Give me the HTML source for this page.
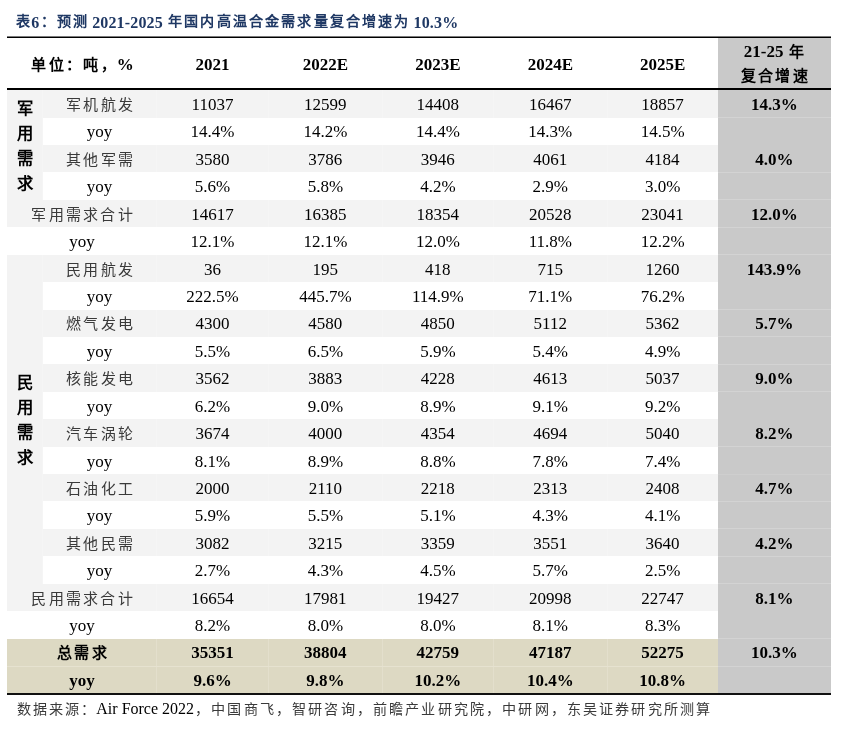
<!DOCTYPE html>
<html lang="zh-CN"><head><meta charset="utf-8"><title>表6</title>
<style>
html,body{margin:0;padding:0;background:#fff;}
body{width:842px;height:738px;position:relative;overflow:hidden;will-change:transform;font-family:"Liberation Serif",serif;color:#000;}
.r{position:absolute;}
.t{position:absolute;line-height:20px;height:20px;text-align:center;white-space:nowrap;}
.c{position:relative;}
</style></head><body>
<div class="r" style="left:42.40px;top:90.20px;width:675.60px;height:27.42px;background:#f3f3f3"></div>
<div class="r" style="left:42.40px;top:145.04px;width:675.60px;height:27.42px;background:#f3f3f3"></div>
<div class="r" style="left:42.40px;top:199.88px;width:675.60px;height:27.42px;background:#f3f3f3"></div>
<div class="r" style="left:7.40px;top:199.88px;width:35.00px;height:27.42px;background:#f3f3f3"></div>
<div class="r" style="left:42.40px;top:254.72px;width:675.60px;height:27.42px;background:#f3f3f3"></div>
<div class="r" style="left:42.40px;top:309.56px;width:675.60px;height:27.42px;background:#f3f3f3"></div>
<div class="r" style="left:42.40px;top:364.40px;width:675.60px;height:27.42px;background:#f3f3f3"></div>
<div class="r" style="left:42.40px;top:419.24px;width:675.60px;height:27.42px;background:#f3f3f3"></div>
<div class="r" style="left:42.40px;top:474.08px;width:675.60px;height:27.42px;background:#f3f3f3"></div>
<div class="r" style="left:42.40px;top:528.92px;width:675.60px;height:27.42px;background:#f3f3f3"></div>
<div class="r" style="left:42.40px;top:583.76px;width:675.60px;height:27.42px;background:#f3f3f3"></div>
<div class="r" style="left:7.40px;top:583.76px;width:35.00px;height:27.42px;background:#f3f3f3"></div>
<div class="r" style="left:7.40px;top:638.60px;width:710.60px;height:27.42px;background:#ddd9c3"></div>
<div class="r" style="left:7.40px;top:666.02px;width:710.60px;height:27.42px;background:#ddd9c3"></div>
<div class="r" style="left:7.40px;top:90.20px;width:35.00px;height:109.68px;background:#f3f3f3"></div>
<div class="r" style="left:7.40px;top:254.72px;width:35.00px;height:329.04px;background:#f3f3f3"></div>
<div class="r" style="left:718.00px;top:37.00px;width:112.70px;height:656.44px;background:#c9c9c9"></div>
<div class="r" style="left:156.10px;top:90.20px;width:1.00px;height:27.42px;background:#f5f5f5"></div>
<div class="r" style="left:267.90px;top:90.20px;width:1.00px;height:27.42px;background:#f5f5f5"></div>
<div class="r" style="left:381.80px;top:90.20px;width:1.00px;height:27.42px;background:#f5f5f5"></div>
<div class="r" style="left:492.90px;top:90.20px;width:1.00px;height:27.42px;background:#f5f5f5"></div>
<div class="r" style="left:606.70px;top:90.20px;width:1.00px;height:27.42px;background:#f5f5f5"></div>
<div class="r" style="left:41.90px;top:90.20px;width:1.00px;height:27.42px;background:#f5f5f5"></div>
<div class="r" style="left:156.10px;top:145.04px;width:1.00px;height:27.42px;background:#f5f5f5"></div>
<div class="r" style="left:267.90px;top:145.04px;width:1.00px;height:27.42px;background:#f5f5f5"></div>
<div class="r" style="left:381.80px;top:145.04px;width:1.00px;height:27.42px;background:#f5f5f5"></div>
<div class="r" style="left:492.90px;top:145.04px;width:1.00px;height:27.42px;background:#f5f5f5"></div>
<div class="r" style="left:606.70px;top:145.04px;width:1.00px;height:27.42px;background:#f5f5f5"></div>
<div class="r" style="left:41.90px;top:145.04px;width:1.00px;height:27.42px;background:#f5f5f5"></div>
<div class="r" style="left:156.10px;top:199.88px;width:1.00px;height:27.42px;background:#f5f5f5"></div>
<div class="r" style="left:267.90px;top:199.88px;width:1.00px;height:27.42px;background:#f5f5f5"></div>
<div class="r" style="left:381.80px;top:199.88px;width:1.00px;height:27.42px;background:#f5f5f5"></div>
<div class="r" style="left:492.90px;top:199.88px;width:1.00px;height:27.42px;background:#f5f5f5"></div>
<div class="r" style="left:606.70px;top:199.88px;width:1.00px;height:27.42px;background:#f5f5f5"></div>
<div class="r" style="left:156.10px;top:254.72px;width:1.00px;height:27.42px;background:#f5f5f5"></div>
<div class="r" style="left:267.90px;top:254.72px;width:1.00px;height:27.42px;background:#f5f5f5"></div>
<div class="r" style="left:381.80px;top:254.72px;width:1.00px;height:27.42px;background:#f5f5f5"></div>
<div class="r" style="left:492.90px;top:254.72px;width:1.00px;height:27.42px;background:#f5f5f5"></div>
<div class="r" style="left:606.70px;top:254.72px;width:1.00px;height:27.42px;background:#f5f5f5"></div>
<div class="r" style="left:41.90px;top:254.72px;width:1.00px;height:27.42px;background:#f5f5f5"></div>
<div class="r" style="left:156.10px;top:309.56px;width:1.00px;height:27.42px;background:#f5f5f5"></div>
<div class="r" style="left:267.90px;top:309.56px;width:1.00px;height:27.42px;background:#f5f5f5"></div>
<div class="r" style="left:381.80px;top:309.56px;width:1.00px;height:27.42px;background:#f5f5f5"></div>
<div class="r" style="left:492.90px;top:309.56px;width:1.00px;height:27.42px;background:#f5f5f5"></div>
<div class="r" style="left:606.70px;top:309.56px;width:1.00px;height:27.42px;background:#f5f5f5"></div>
<div class="r" style="left:41.90px;top:309.56px;width:1.00px;height:27.42px;background:#f5f5f5"></div>
<div class="r" style="left:156.10px;top:364.40px;width:1.00px;height:27.42px;background:#f5f5f5"></div>
<div class="r" style="left:267.90px;top:364.40px;width:1.00px;height:27.42px;background:#f5f5f5"></div>
<div class="r" style="left:381.80px;top:364.40px;width:1.00px;height:27.42px;background:#f5f5f5"></div>
<div class="r" style="left:492.90px;top:364.40px;width:1.00px;height:27.42px;background:#f5f5f5"></div>
<div class="r" style="left:606.70px;top:364.40px;width:1.00px;height:27.42px;background:#f5f5f5"></div>
<div class="r" style="left:41.90px;top:364.40px;width:1.00px;height:27.42px;background:#f5f5f5"></div>
<div class="r" style="left:156.10px;top:419.24px;width:1.00px;height:27.42px;background:#f5f5f5"></div>
<div class="r" style="left:267.90px;top:419.24px;width:1.00px;height:27.42px;background:#f5f5f5"></div>
<div class="r" style="left:381.80px;top:419.24px;width:1.00px;height:27.42px;background:#f5f5f5"></div>
<div class="r" style="left:492.90px;top:419.24px;width:1.00px;height:27.42px;background:#f5f5f5"></div>
<div class="r" style="left:606.70px;top:419.24px;width:1.00px;height:27.42px;background:#f5f5f5"></div>
<div class="r" style="left:41.90px;top:419.24px;width:1.00px;height:27.42px;background:#f5f5f5"></div>
<div class="r" style="left:156.10px;top:474.08px;width:1.00px;height:27.42px;background:#f5f5f5"></div>
<div class="r" style="left:267.90px;top:474.08px;width:1.00px;height:27.42px;background:#f5f5f5"></div>
<div class="r" style="left:381.80px;top:474.08px;width:1.00px;height:27.42px;background:#f5f5f5"></div>
<div class="r" style="left:492.90px;top:474.08px;width:1.00px;height:27.42px;background:#f5f5f5"></div>
<div class="r" style="left:606.70px;top:474.08px;width:1.00px;height:27.42px;background:#f5f5f5"></div>
<div class="r" style="left:41.90px;top:474.08px;width:1.00px;height:27.42px;background:#f5f5f5"></div>
<div class="r" style="left:156.10px;top:528.92px;width:1.00px;height:27.42px;background:#f5f5f5"></div>
<div class="r" style="left:267.90px;top:528.92px;width:1.00px;height:27.42px;background:#f5f5f5"></div>
<div class="r" style="left:381.80px;top:528.92px;width:1.00px;height:27.42px;background:#f5f5f5"></div>
<div class="r" style="left:492.90px;top:528.92px;width:1.00px;height:27.42px;background:#f5f5f5"></div>
<div class="r" style="left:606.70px;top:528.92px;width:1.00px;height:27.42px;background:#f5f5f5"></div>
<div class="r" style="left:41.90px;top:528.92px;width:1.00px;height:27.42px;background:#f5f5f5"></div>
<div class="r" style="left:156.10px;top:583.76px;width:1.00px;height:27.42px;background:#f5f5f5"></div>
<div class="r" style="left:267.90px;top:583.76px;width:1.00px;height:27.42px;background:#f5f5f5"></div>
<div class="r" style="left:381.80px;top:583.76px;width:1.00px;height:27.42px;background:#f5f5f5"></div>
<div class="r" style="left:492.90px;top:583.76px;width:1.00px;height:27.42px;background:#f5f5f5"></div>
<div class="r" style="left:606.70px;top:583.76px;width:1.00px;height:27.42px;background:#f5f5f5"></div>
<div class="r" style="left:156.10px;top:638.60px;width:1.00px;height:27.42px;background:#e3dfcc"></div>
<div class="r" style="left:267.90px;top:638.60px;width:1.00px;height:27.42px;background:#e3dfcc"></div>
<div class="r" style="left:381.80px;top:638.60px;width:1.00px;height:27.42px;background:#e3dfcc"></div>
<div class="r" style="left:492.90px;top:638.60px;width:1.00px;height:27.42px;background:#e3dfcc"></div>
<div class="r" style="left:606.70px;top:638.60px;width:1.00px;height:27.42px;background:#e3dfcc"></div>
<div class="r" style="left:156.10px;top:666.02px;width:1.00px;height:27.42px;background:#e3dfcc"></div>
<div class="r" style="left:267.90px;top:666.02px;width:1.00px;height:27.42px;background:#e3dfcc"></div>
<div class="r" style="left:381.80px;top:666.02px;width:1.00px;height:27.42px;background:#e3dfcc"></div>
<div class="r" style="left:492.90px;top:666.02px;width:1.00px;height:27.42px;background:#e3dfcc"></div>
<div class="r" style="left:606.70px;top:666.02px;width:1.00px;height:27.42px;background:#e3dfcc"></div>
<div class="r" style="left:41.90px;top:90.20px;width:1.00px;height:109.68px;background:#f5f5f5"></div>
<div class="r" style="left:41.90px;top:254.72px;width:1.00px;height:329.04px;background:#f5f5f5"></div>
<div class="r" style="left:718.00px;top:117.12px;width:112.70px;height:1.00px;background:#d3d3d3"></div>
<div class="r" style="left:718.00px;top:171.96px;width:112.70px;height:1.00px;background:#d3d3d3"></div>
<div class="r" style="left:718.00px;top:199.38px;width:112.70px;height:1.00px;background:#d3d3d3"></div>
<div class="r" style="left:718.00px;top:226.80px;width:112.70px;height:1.00px;background:#d3d3d3"></div>
<div class="r" style="left:718.00px;top:254.22px;width:112.70px;height:1.00px;background:#d3d3d3"></div>
<div class="r" style="left:718.00px;top:309.06px;width:112.70px;height:1.00px;background:#d3d3d3"></div>
<div class="r" style="left:718.00px;top:336.48px;width:112.70px;height:1.00px;background:#d3d3d3"></div>
<div class="r" style="left:718.00px;top:363.90px;width:112.70px;height:1.00px;background:#d3d3d3"></div>
<div class="r" style="left:718.00px;top:391.32px;width:112.70px;height:1.00px;background:#d3d3d3"></div>
<div class="r" style="left:718.00px;top:446.16px;width:112.70px;height:1.00px;background:#d3d3d3"></div>
<div class="r" style="left:718.00px;top:501.00px;width:112.70px;height:1.00px;background:#d3d3d3"></div>
<div class="r" style="left:718.00px;top:528.42px;width:112.70px;height:1.00px;background:#d3d3d3"></div>
<div class="r" style="left:718.00px;top:555.84px;width:112.70px;height:1.00px;background:#d3d3d3"></div>
<div class="r" style="left:718.00px;top:583.26px;width:112.70px;height:1.00px;background:#d3d3d3"></div>
<div class="r" style="left:718.00px;top:638.10px;width:112.70px;height:1.00px;background:#d3d3d3"></div>
<div class="r" style="left:718.00px;top:665.52px;width:112.70px;height:1.00px;background:#d3d3d3"></div>
<div class="r" style="left:718.00px;top:473.58px;width:112.70px;height:1.00px;background:#cecece"></div>
<div class="r" style="left:7.40px;top:665.52px;width:710.60px;height:1.00px;background:#e6e2d0"></div>
<div class="r" style="left:7.40px;top:36.00px;width:823.30px;height:1.00px;background:#7a7a7a"></div>
<div class="r" style="left:7.40px;top:37.00px;width:823.30px;height:1.00px;background:#000"></div>
<div class="r" style="left:7.40px;top:88.00px;width:823.30px;height:2.00px;background:#000"></div>
<div class="r" style="left:7.40px;top:693.00px;width:823.30px;height:2.00px;background:#111"></div>
<div class="t" style="letter-spacing:0.15px;left:15.20px;text-align:left;top:12.50px;font-size:16px;font-weight:bold;color:#1f3864;"><span class="c" style="font-size:14.12px;letter-spacing:2.16px;padding-left:1.08px;margin-right:-1.08px;font-weight:bold;color:inherit;top:-1.20px">表</span>6<span class="c" style="font-size:14.12px;letter-spacing:2.16px;padding-left:1.08px;margin-right:-1.08px;font-weight:bold;color:inherit;top:-1.20px">：预测</span> 2021-2025 <span class="c" style="font-size:14.12px;letter-spacing:2.16px;padding-left:1.08px;margin-right:-1.08px;font-weight:bold;color:inherit;top:-1.20px">年国内高温合金需求量复合增速为</span> 10.3%</div>
<div class="t" style="left:-68.00px;width:300px;top:54.56px;font-size:17px;font-weight:bold;"><span class="c" style="font-size:15.00px;letter-spacing:2.30px;padding-left:1.15px;margin-right:-1.15px;font-weight:bold;color:inherit;top:0.00px">单位：吨，</span>%</div>
<div class="t" style="left:62.50px;width:300px;top:54.56px;font-size:17px;font-weight:bold;">2021</div>
<div class="t" style="left:175.35px;width:300px;top:54.56px;font-size:17px;font-weight:bold;">2022E</div>
<div class="t" style="left:287.85px;width:300px;top:54.56px;font-size:17px;font-weight:bold;">2023E</div>
<div class="t" style="left:400.30px;width:300px;top:54.56px;font-size:17px;font-weight:bold;">2024E</div>
<div class="t" style="left:512.60px;width:300px;top:54.56px;font-size:17px;font-weight:bold;">2025E</div>
<div class="t" style="left:624.35px;width:300px;top:41.76px;font-size:17px;font-weight:bold;">21-25 <span class="c" style="font-size:15.00px;letter-spacing:2.30px;padding-left:1.15px;margin-right:-1.15px;font-weight:bold;color:inherit;top:0.00px">年</span></div>
<div class="t" style="left:624.35px;width:300px;top:66.46px;font-size:17px;font-weight:bold;"><span class="c" style="font-size:15.00px;letter-spacing:2.30px;padding-left:1.15px;margin-right:-1.15px;font-weight:bold;color:inherit;top:0.00px">复合增速</span></div>
<div class="t" style="left:-50.50px;width:300px;top:95.06px;font-size:17px;"><span class="c" style="font-size:15.00px;letter-spacing:2.30px;padding-left:1.15px;margin-right:-1.15px;font-weight:normal;color:#3a3a3a;top:0.00px">军机航发</span></div>
<div class="t" style="left:62.50px;width:300px;top:95.06px;font-size:17px;">11037</div>
<div class="t" style="left:175.35px;width:300px;top:95.06px;font-size:17px;">12599</div>
<div class="t" style="left:287.85px;width:300px;top:95.06px;font-size:17px;">14408</div>
<div class="t" style="left:400.30px;width:300px;top:95.06px;font-size:17px;">16467</div>
<div class="t" style="left:512.60px;width:300px;top:95.06px;font-size:17px;">18857</div>
<div class="t" style="left:624.35px;width:300px;top:95.06px;font-size:17px;font-weight:bold;">14.3%</div>
<div class="t" style="left:-50.50px;width:300px;top:122.48px;font-size:17px;">yoy</div>
<div class="t" style="left:62.50px;width:300px;top:122.48px;font-size:17px;">14.4%</div>
<div class="t" style="left:175.35px;width:300px;top:122.48px;font-size:17px;">14.2%</div>
<div class="t" style="left:287.85px;width:300px;top:122.48px;font-size:17px;">14.4%</div>
<div class="t" style="left:400.30px;width:300px;top:122.48px;font-size:17px;">14.3%</div>
<div class="t" style="left:512.60px;width:300px;top:122.48px;font-size:17px;">14.5%</div>
<div class="t" style="left:-50.50px;width:300px;top:149.90px;font-size:17px;"><span class="c" style="font-size:15.00px;letter-spacing:2.30px;padding-left:1.15px;margin-right:-1.15px;font-weight:normal;color:#3a3a3a;top:0.00px">其他军需</span></div>
<div class="t" style="left:62.50px;width:300px;top:149.90px;font-size:17px;">3580</div>
<div class="t" style="left:175.35px;width:300px;top:149.90px;font-size:17px;">3786</div>
<div class="t" style="left:287.85px;width:300px;top:149.90px;font-size:17px;">3946</div>
<div class="t" style="left:400.30px;width:300px;top:149.90px;font-size:17px;">4061</div>
<div class="t" style="left:512.60px;width:300px;top:149.90px;font-size:17px;">4184</div>
<div class="t" style="left:624.35px;width:300px;top:149.90px;font-size:17px;font-weight:bold;">4.0%</div>
<div class="t" style="left:-50.50px;width:300px;top:177.32px;font-size:17px;">yoy</div>
<div class="t" style="left:62.50px;width:300px;top:177.32px;font-size:17px;">5.6%</div>
<div class="t" style="left:175.35px;width:300px;top:177.32px;font-size:17px;">5.8%</div>
<div class="t" style="left:287.85px;width:300px;top:177.32px;font-size:17px;">4.2%</div>
<div class="t" style="left:400.30px;width:300px;top:177.32px;font-size:17px;">2.9%</div>
<div class="t" style="left:512.60px;width:300px;top:177.32px;font-size:17px;">3.0%</div>
<div class="t" style="left:-68.00px;width:300px;top:204.74px;font-size:17px;"><span class="c" style="font-size:15.00px;letter-spacing:2.30px;padding-left:1.15px;margin-right:-1.15px;font-weight:normal;color:#3a3a3a;top:0.00px">军用需求合计</span></div>
<div class="t" style="left:62.50px;width:300px;top:204.74px;font-size:17px;">14617</div>
<div class="t" style="left:175.35px;width:300px;top:204.74px;font-size:17px;">16385</div>
<div class="t" style="left:287.85px;width:300px;top:204.74px;font-size:17px;">18354</div>
<div class="t" style="left:400.30px;width:300px;top:204.74px;font-size:17px;">20528</div>
<div class="t" style="left:512.60px;width:300px;top:204.74px;font-size:17px;">23041</div>
<div class="t" style="left:624.35px;width:300px;top:204.74px;font-size:17px;font-weight:bold;">12.0%</div>
<div class="t" style="left:-68.00px;width:300px;top:232.16px;font-size:17px;">yoy</div>
<div class="t" style="left:62.50px;width:300px;top:232.16px;font-size:17px;">12.1%</div>
<div class="t" style="left:175.35px;width:300px;top:232.16px;font-size:17px;">12.1%</div>
<div class="t" style="left:287.85px;width:300px;top:232.16px;font-size:17px;">12.0%</div>
<div class="t" style="left:400.30px;width:300px;top:232.16px;font-size:17px;">11.8%</div>
<div class="t" style="left:512.60px;width:300px;top:232.16px;font-size:17px;">12.2%</div>
<div class="t" style="left:-50.50px;width:300px;top:259.58px;font-size:17px;"><span class="c" style="font-size:15.00px;letter-spacing:2.30px;padding-left:1.15px;margin-right:-1.15px;font-weight:normal;color:#3a3a3a;top:0.00px">民用航发</span></div>
<div class="t" style="left:62.50px;width:300px;top:259.58px;font-size:17px;">36</div>
<div class="t" style="left:175.35px;width:300px;top:259.58px;font-size:17px;">195</div>
<div class="t" style="left:287.85px;width:300px;top:259.58px;font-size:17px;">418</div>
<div class="t" style="left:400.30px;width:300px;top:259.58px;font-size:17px;">715</div>
<div class="t" style="left:512.60px;width:300px;top:259.58px;font-size:17px;">1260</div>
<div class="t" style="left:624.35px;width:300px;top:259.58px;font-size:17px;font-weight:bold;">143.9%</div>
<div class="t" style="left:-50.50px;width:300px;top:287.00px;font-size:17px;">yoy</div>
<div class="t" style="left:62.50px;width:300px;top:287.00px;font-size:17px;">222.5%</div>
<div class="t" style="left:175.35px;width:300px;top:287.00px;font-size:17px;">445.7%</div>
<div class="t" style="left:287.85px;width:300px;top:287.00px;font-size:17px;">114.9%</div>
<div class="t" style="left:400.30px;width:300px;top:287.00px;font-size:17px;">71.1%</div>
<div class="t" style="left:512.60px;width:300px;top:287.00px;font-size:17px;">76.2%</div>
<div class="t" style="left:-50.50px;width:300px;top:314.42px;font-size:17px;"><span class="c" style="font-size:15.00px;letter-spacing:2.30px;padding-left:1.15px;margin-right:-1.15px;font-weight:normal;color:#3a3a3a;top:0.00px">燃气发电</span></div>
<div class="t" style="left:62.50px;width:300px;top:314.42px;font-size:17px;">4300</div>
<div class="t" style="left:175.35px;width:300px;top:314.42px;font-size:17px;">4580</div>
<div class="t" style="left:287.85px;width:300px;top:314.42px;font-size:17px;">4850</div>
<div class="t" style="left:400.30px;width:300px;top:314.42px;font-size:17px;">5112</div>
<div class="t" style="left:512.60px;width:300px;top:314.42px;font-size:17px;">5362</div>
<div class="t" style="left:624.35px;width:300px;top:314.42px;font-size:17px;font-weight:bold;">5.7%</div>
<div class="t" style="left:-50.50px;width:300px;top:341.84px;font-size:17px;">yoy</div>
<div class="t" style="left:62.50px;width:300px;top:341.84px;font-size:17px;">5.5%</div>
<div class="t" style="left:175.35px;width:300px;top:341.84px;font-size:17px;">6.5%</div>
<div class="t" style="left:287.85px;width:300px;top:341.84px;font-size:17px;">5.9%</div>
<div class="t" style="left:400.30px;width:300px;top:341.84px;font-size:17px;">5.4%</div>
<div class="t" style="left:512.60px;width:300px;top:341.84px;font-size:17px;">4.9%</div>
<div class="t" style="left:-50.50px;width:300px;top:369.26px;font-size:17px;"><span class="c" style="font-size:15.00px;letter-spacing:2.30px;padding-left:1.15px;margin-right:-1.15px;font-weight:normal;color:#3a3a3a;top:0.00px">核能发电</span></div>
<div class="t" style="left:62.50px;width:300px;top:369.26px;font-size:17px;">3562</div>
<div class="t" style="left:175.35px;width:300px;top:369.26px;font-size:17px;">3883</div>
<div class="t" style="left:287.85px;width:300px;top:369.26px;font-size:17px;">4228</div>
<div class="t" style="left:400.30px;width:300px;top:369.26px;font-size:17px;">4613</div>
<div class="t" style="left:512.60px;width:300px;top:369.26px;font-size:17px;">5037</div>
<div class="t" style="left:624.35px;width:300px;top:369.26px;font-size:17px;font-weight:bold;">9.0%</div>
<div class="t" style="left:-50.50px;width:300px;top:396.68px;font-size:17px;">yoy</div>
<div class="t" style="left:62.50px;width:300px;top:396.68px;font-size:17px;">6.2%</div>
<div class="t" style="left:175.35px;width:300px;top:396.68px;font-size:17px;">9.0%</div>
<div class="t" style="left:287.85px;width:300px;top:396.68px;font-size:17px;">8.9%</div>
<div class="t" style="left:400.30px;width:300px;top:396.68px;font-size:17px;">9.1%</div>
<div class="t" style="left:512.60px;width:300px;top:396.68px;font-size:17px;">9.2%</div>
<div class="t" style="left:-50.50px;width:300px;top:424.10px;font-size:17px;"><span class="c" style="font-size:15.00px;letter-spacing:2.30px;padding-left:1.15px;margin-right:-1.15px;font-weight:normal;color:#3a3a3a;top:0.00px">汽车涡轮</span></div>
<div class="t" style="left:62.50px;width:300px;top:424.10px;font-size:17px;">3674</div>
<div class="t" style="left:175.35px;width:300px;top:424.10px;font-size:17px;">4000</div>
<div class="t" style="left:287.85px;width:300px;top:424.10px;font-size:17px;">4354</div>
<div class="t" style="left:400.30px;width:300px;top:424.10px;font-size:17px;">4694</div>
<div class="t" style="left:512.60px;width:300px;top:424.10px;font-size:17px;">5040</div>
<div class="t" style="left:624.35px;width:300px;top:424.10px;font-size:17px;font-weight:bold;">8.2%</div>
<div class="t" style="left:-50.50px;width:300px;top:451.52px;font-size:17px;">yoy</div>
<div class="t" style="left:62.50px;width:300px;top:451.52px;font-size:17px;">8.1%</div>
<div class="t" style="left:175.35px;width:300px;top:451.52px;font-size:17px;">8.9%</div>
<div class="t" style="left:287.85px;width:300px;top:451.52px;font-size:17px;">8.8%</div>
<div class="t" style="left:400.30px;width:300px;top:451.52px;font-size:17px;">7.8%</div>
<div class="t" style="left:512.60px;width:300px;top:451.52px;font-size:17px;">7.4%</div>
<div class="t" style="left:-50.50px;width:300px;top:478.94px;font-size:17px;"><span class="c" style="font-size:15.00px;letter-spacing:2.30px;padding-left:1.15px;margin-right:-1.15px;font-weight:normal;color:#3a3a3a;top:0.00px">石油化工</span></div>
<div class="t" style="left:62.50px;width:300px;top:478.94px;font-size:17px;">2000</div>
<div class="t" style="left:175.35px;width:300px;top:478.94px;font-size:17px;">2110</div>
<div class="t" style="left:287.85px;width:300px;top:478.94px;font-size:17px;">2218</div>
<div class="t" style="left:400.30px;width:300px;top:478.94px;font-size:17px;">2313</div>
<div class="t" style="left:512.60px;width:300px;top:478.94px;font-size:17px;">2408</div>
<div class="t" style="left:624.35px;width:300px;top:478.94px;font-size:17px;font-weight:bold;">4.7%</div>
<div class="t" style="left:-50.50px;width:300px;top:506.36px;font-size:17px;">yoy</div>
<div class="t" style="left:62.50px;width:300px;top:506.36px;font-size:17px;">5.9%</div>
<div class="t" style="left:175.35px;width:300px;top:506.36px;font-size:17px;">5.5%</div>
<div class="t" style="left:287.85px;width:300px;top:506.36px;font-size:17px;">5.1%</div>
<div class="t" style="left:400.30px;width:300px;top:506.36px;font-size:17px;">4.3%</div>
<div class="t" style="left:512.60px;width:300px;top:506.36px;font-size:17px;">4.1%</div>
<div class="t" style="left:-50.50px;width:300px;top:533.78px;font-size:17px;"><span class="c" style="font-size:15.00px;letter-spacing:2.30px;padding-left:1.15px;margin-right:-1.15px;font-weight:normal;color:#3a3a3a;top:0.00px">其他民需</span></div>
<div class="t" style="left:62.50px;width:300px;top:533.78px;font-size:17px;">3082</div>
<div class="t" style="left:175.35px;width:300px;top:533.78px;font-size:17px;">3215</div>
<div class="t" style="left:287.85px;width:300px;top:533.78px;font-size:17px;">3359</div>
<div class="t" style="left:400.30px;width:300px;top:533.78px;font-size:17px;">3551</div>
<div class="t" style="left:512.60px;width:300px;top:533.78px;font-size:17px;">3640</div>
<div class="t" style="left:624.35px;width:300px;top:533.78px;font-size:17px;font-weight:bold;">4.2%</div>
<div class="t" style="left:-50.50px;width:300px;top:561.20px;font-size:17px;">yoy</div>
<div class="t" style="left:62.50px;width:300px;top:561.20px;font-size:17px;">2.7%</div>
<div class="t" style="left:175.35px;width:300px;top:561.20px;font-size:17px;">4.3%</div>
<div class="t" style="left:287.85px;width:300px;top:561.20px;font-size:17px;">4.5%</div>
<div class="t" style="left:400.30px;width:300px;top:561.20px;font-size:17px;">5.7%</div>
<div class="t" style="left:512.60px;width:300px;top:561.20px;font-size:17px;">2.5%</div>
<div class="t" style="left:-68.00px;width:300px;top:588.62px;font-size:17px;"><span class="c" style="font-size:15.00px;letter-spacing:2.30px;padding-left:1.15px;margin-right:-1.15px;font-weight:normal;color:#3a3a3a;top:0.00px">民用需求合计</span></div>
<div class="t" style="left:62.50px;width:300px;top:588.62px;font-size:17px;">16654</div>
<div class="t" style="left:175.35px;width:300px;top:588.62px;font-size:17px;">17981</div>
<div class="t" style="left:287.85px;width:300px;top:588.62px;font-size:17px;">19427</div>
<div class="t" style="left:400.30px;width:300px;top:588.62px;font-size:17px;">20998</div>
<div class="t" style="left:512.60px;width:300px;top:588.62px;font-size:17px;">22747</div>
<div class="t" style="left:624.35px;width:300px;top:588.62px;font-size:17px;font-weight:bold;">8.1%</div>
<div class="t" style="left:-68.00px;width:300px;top:616.04px;font-size:17px;">yoy</div>
<div class="t" style="left:62.50px;width:300px;top:616.04px;font-size:17px;">8.2%</div>
<div class="t" style="left:175.35px;width:300px;top:616.04px;font-size:17px;">8.0%</div>
<div class="t" style="left:287.85px;width:300px;top:616.04px;font-size:17px;">8.0%</div>
<div class="t" style="left:400.30px;width:300px;top:616.04px;font-size:17px;">8.1%</div>
<div class="t" style="left:512.60px;width:300px;top:616.04px;font-size:17px;">8.3%</div>
<div class="t" style="left:-68.00px;width:300px;top:643.46px;font-size:17px;font-weight:bold;"><span class="c" style="font-size:15.00px;letter-spacing:2.30px;padding-left:1.15px;margin-right:-1.15px;font-weight:bold;color:inherit;top:0.00px">总需求</span></div>
<div class="t" style="left:62.50px;width:300px;top:643.46px;font-size:17px;font-weight:bold;">35351</div>
<div class="t" style="left:175.35px;width:300px;top:643.46px;font-size:17px;font-weight:bold;">38804</div>
<div class="t" style="left:287.85px;width:300px;top:643.46px;font-size:17px;font-weight:bold;">42759</div>
<div class="t" style="left:400.30px;width:300px;top:643.46px;font-size:17px;font-weight:bold;">47187</div>
<div class="t" style="left:512.60px;width:300px;top:643.46px;font-size:17px;font-weight:bold;">52275</div>
<div class="t" style="left:624.35px;width:300px;top:643.46px;font-size:17px;font-weight:bold;">10.3%</div>
<div class="t" style="left:-68.00px;width:300px;top:670.88px;font-size:17px;font-weight:bold;">yoy</div>
<div class="t" style="left:62.50px;width:300px;top:670.88px;font-size:17px;font-weight:bold;">9.6%</div>
<div class="t" style="left:175.35px;width:300px;top:670.88px;font-size:17px;font-weight:bold;">9.8%</div>
<div class="t" style="left:287.85px;width:300px;top:670.88px;font-size:17px;font-weight:bold;">10.2%</div>
<div class="t" style="left:400.30px;width:300px;top:670.88px;font-size:17px;font-weight:bold;">10.4%</div>
<div class="t" style="left:512.60px;width:300px;top:670.88px;font-size:17px;font-weight:bold;">10.8%</div>
<div class="t" style="left:-125.10px;width:300px;top:98.21px;font-size:18.5px;font-weight:bold;"><span class="c" style="font-size:16.32px;letter-spacing:2.50px;padding-left:1.25px;margin-right:-1.25px;font-weight:bold;color:inherit;top:0.00px">军</span></div>
<div class="t" style="left:-125.10px;width:300px;top:123.11px;font-size:18.5px;font-weight:bold;"><span class="c" style="font-size:16.32px;letter-spacing:2.50px;padding-left:1.25px;margin-right:-1.25px;font-weight:bold;color:inherit;top:0.00px">用</span></div>
<div class="t" style="left:-125.10px;width:300px;top:148.01px;font-size:18.5px;font-weight:bold;"><span class="c" style="font-size:16.32px;letter-spacing:2.50px;padding-left:1.25px;margin-right:-1.25px;font-weight:bold;color:inherit;top:0.00px">需</span></div>
<div class="t" style="left:-125.10px;width:300px;top:172.91px;font-size:18.5px;font-weight:bold;"><span class="c" style="font-size:16.32px;letter-spacing:2.50px;padding-left:1.25px;margin-right:-1.25px;font-weight:bold;color:inherit;top:0.00px">求</span></div>
<div class="t" style="left:-125.10px;width:300px;top:372.25px;font-size:18.5px;font-weight:bold;"><span class="c" style="font-size:16.32px;letter-spacing:2.50px;padding-left:1.25px;margin-right:-1.25px;font-weight:bold;color:inherit;top:0.00px">民</span></div>
<div class="t" style="left:-125.10px;width:300px;top:397.15px;font-size:18.5px;font-weight:bold;"><span class="c" style="font-size:16.32px;letter-spacing:2.50px;padding-left:1.25px;margin-right:-1.25px;font-weight:bold;color:inherit;top:0.00px">用</span></div>
<div class="t" style="left:-125.10px;width:300px;top:422.05px;font-size:18.5px;font-weight:bold;"><span class="c" style="font-size:16.32px;letter-spacing:2.50px;padding-left:1.25px;margin-right:-1.25px;font-weight:bold;color:inherit;top:0.00px">需</span></div>
<div class="t" style="left:-125.10px;width:300px;top:446.95px;font-size:18.5px;font-weight:bold;"><span class="c" style="font-size:16.32px;letter-spacing:2.50px;padding-left:1.25px;margin-right:-1.25px;font-weight:bold;color:inherit;top:0.00px">求</span></div>
<div class="t" style="left:15.50px;text-align:left;top:698.80px;font-size:16px;"><span class="c" style="font-size:14.12px;letter-spacing:2.16px;padding-left:1.08px;margin-right:-1.08px;font-weight:normal;color:#3a3a3a;top:0.00px">数据来源：</span>Air Force 2022<span class="c" style="font-size:14.12px;letter-spacing:2.16px;padding-left:1.08px;margin-right:-1.08px;font-weight:normal;color:#3a3a3a;top:0.00px">，中国商飞，智研咨询，前瞻产业研究院，中研网，东吴证券研究所测算</span></div>
</body></html>
